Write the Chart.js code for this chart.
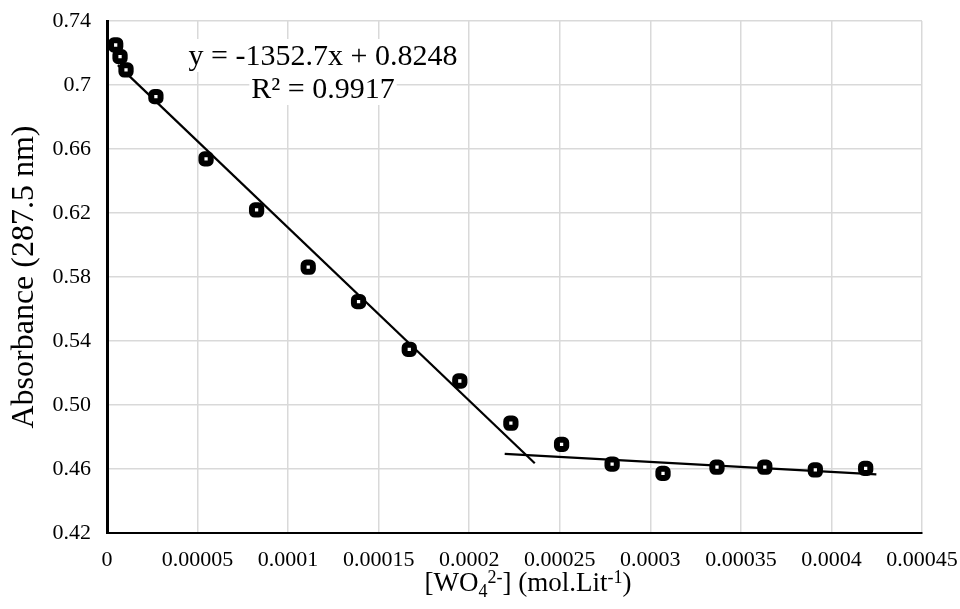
<!DOCTYPE html>
<html>
<head>
<meta charset="utf-8">
<title>Absorbance vs tungstate concentration</title>
<script src="https://cdn.jsdelivr.net/npm/chart.js@4.4.1/dist/chart.umd.min.js"></script>
<style>
  html, body { margin: 0; padding: 0; background: #fff; }
  canvas { display: block; }
</style>
</head>
<body>
<canvas id="chart" width="960" height="609"></canvas>
<script>
// measured points: [WO4 2-] (mol/L) against absorbance at 287.5 nm
const concentration = [0.0000048, 0.0000072, 0.0000105, 0.000027, 0.0000547, 0.0000826,
    0.0001111, 0.0001389, 0.0001669, 0.0001948, 0.000223, 0.000251,
    0.0002789, 0.000307, 0.0003368, 0.0003632, 0.0003911, 0.0004189];
const absorbance = [0.725, 0.7177, 0.7094, 0.6927, 0.6538, 0.6219,
    0.5861, 0.5646, 0.5348, 0.515, 0.4886, 0.4754,
    0.4631, 0.4573, 0.4611, 0.4611, 0.4594, 0.4604];

// the two straight fits as drawn (end points, data units)
const fitDropX = [0.000006, 0.0002362];
const fitDropY = [0.7124, 0.4636];
const fitFlatX = [0.0002196, 0.0004248];
const fitFlatY = [0.4694, 0.4567];

const xTickValues = [0, 0.00005, 0.0001, 0.00015, 0.0002, 0.00025, 0.0003, 0.00035, 0.0004, 0.00045];
const xTickLabels = ['0', '0.00005', '0.0001', '0.00015', '0.0002', '0.00025', '0.0003', '0.00035', '0.0004', '0.00045'];
const yTickValues = [0.42, 0.46, 0.50, 0.54, 0.58, 0.62, 0.66, 0.70, 0.74];
const yTickLabels = ['0.42', '0.46', '0.50', '0.54', '0.58', '0.62', '0.66', '0.7', '0.74'];

const equationLines = ['y = -1352.7x + 0.8248', 'R\u00B2 = 0.9917'];
const yTitle = 'Absorbance (287.5 nm)';

const SERIF = "'Liberation Serif', 'Times New Roman', serif";

// trendline label, white box behind each line hides the grid like in Excel
const fitLabel = {
    id: 'fitLabel',
    beforeDatasetsDraw(chart) {
        const ctx = chart.ctx;
        ctx.save();
        ctx.font = '30px ' + SERIF;
        ctx.textAlign = 'center';
        ctx.textBaseline = 'alphabetic';
        equationLines.forEach((line, i) => {
            const y = 65 + i * 33;
            const w = ctx.measureText(line).width;
            ctx.fillStyle = '#fff';
            ctx.fillRect(323 - w / 2 - 2, y - 26, w + 4, 33);
            ctx.fillStyle = '#000';
            ctx.fillText(line, 323, y);
        });
        ctx.restore();
    }
};

// x axis title with sub/superscripts
const richXTitle = {
    id: 'richXTitle',
    afterDraw(chart) {
        const ctx = chart.ctx;
        const parts = [
            { text: '[WO', size: 27, shift: 0 },
            { text: '4', size: 18, shift: 6 },
            { text: '2-', size: 18, shift: -8 },
            { text: '] (mol.Lit', size: 27, shift: 0 },
            { text: '-1', size: 18, shift: -8 },
            { text: ')', size: 27, shift: 0 }
        ];
        ctx.save();
        ctx.fillStyle = '#000';
        ctx.textBaseline = 'alphabetic';
        ctx.textAlign = 'left';
        let total = 0;
        parts.forEach(p => {
            ctx.font = p.size + 'px ' + SERIF;
            p.w = ctx.measureText(p.text).width;
            total += p.w;
        });
        let x = 528 - total / 2;
        parts.forEach(p => {
            ctx.font = p.size + 'px ' + SERIF;
            ctx.fillText(p.text, x, 591 + p.shift);
            x += p.w;
        });
        ctx.restore();
    }
};

// keep the plot box where the reference has it, labels may overhang
function noOverhang(scale) {
    scale.paddingLeft = 0;
    scale.paddingRight = 0;
    scale.paddingTop = 0;
    scale.paddingBottom = 0;
}

const points = concentration.map((x, i) => ({ x, y: absorbance[i] }));
const dropLine = fitDropX.map((x, i) => ({ x, y: fitDropY[i] }));
const flatLine = fitFlatX.map((x, i) => ({ x, y: fitFlatY[i] }));

const fitStyle = {
    showLine: true,
    borderColor: '#000',
    borderWidth: 2.2,
    pointRadius: 0,
    fill: false
};

const config = {
    type: 'scatter',
    data: {
        datasets: [
            {
                label: 'Absorbance',
                data: points,
                pointStyle: 'rectRounded',
                pointRadius: 5.4,
                pointBorderWidth: 6,
                pointBorderColor: '#000',
                pointBackgroundColor: '#fff'
            },
            Object.assign({ label: 'fit 1', data: dropLine }, fitStyle),
            Object.assign({ label: 'fit 2', data: flatLine }, fitStyle)
        ]
    },
    options: {
        responsive: false,
        animation: false,
        events: [],
        layout: { padding: { top: 21, right: 38, left: 0, bottom: 0 } },
        plugins: {
            legend: { display: false },
            tooltip: { enabled: false }
        },
        scales: {
            x: {
                type: 'linear',
                min: 0,
                max: 0.00045,
                afterBuildTicks: scale => { scale.ticks = xTickValues.map(v => ({ value: v })); },
                afterFit: scale => { scale.height = 76; noOverhang(scale); },
                ticks: {
                    autoSkip: false,
                    maxRotation: 0,
                    minRotation: 0,
                    padding: 14,
                    color: '#000',
                    font: { family: SERIF, size: 22 },
                    callback: (v, i) => xTickLabels[i]
                },
                grid: { color: '#d9d9d9', lineWidth: 1.5, drawTicks: false },
                border: { color: '#000', width: 2 }
            },
            y: {
                type: 'linear',
                min: 0.42,
                max: 0.74,
                afterBuildTicks: scale => { scale.ticks = yTickValues.map(v => ({ value: v })); },
                afterFit: scale => { scale.width = 107; noOverhang(scale); },
                ticks: {
                    padding: 16,
                    color: '#000',
                    font: { family: SERIF, size: 22 },
                    callback: (v, i) => yTickLabels[i]
                },
                grid: { color: '#d9d9d9', lineWidth: 1.5, drawTicks: false },
                border: { color: '#000', width: 3 },
                title: {
                    display: true,
                    text: yTitle,
                    color: '#000',
                    font: { family: SERIF, size: 32 },
                    padding: { top: 5, bottom: 0 }
                }
            }
        }
    },
    plugins: [fitLabel, richXTitle]
};

new Chart(document.getElementById('chart').getContext('2d'), config);
</script>
</body>
</html>
